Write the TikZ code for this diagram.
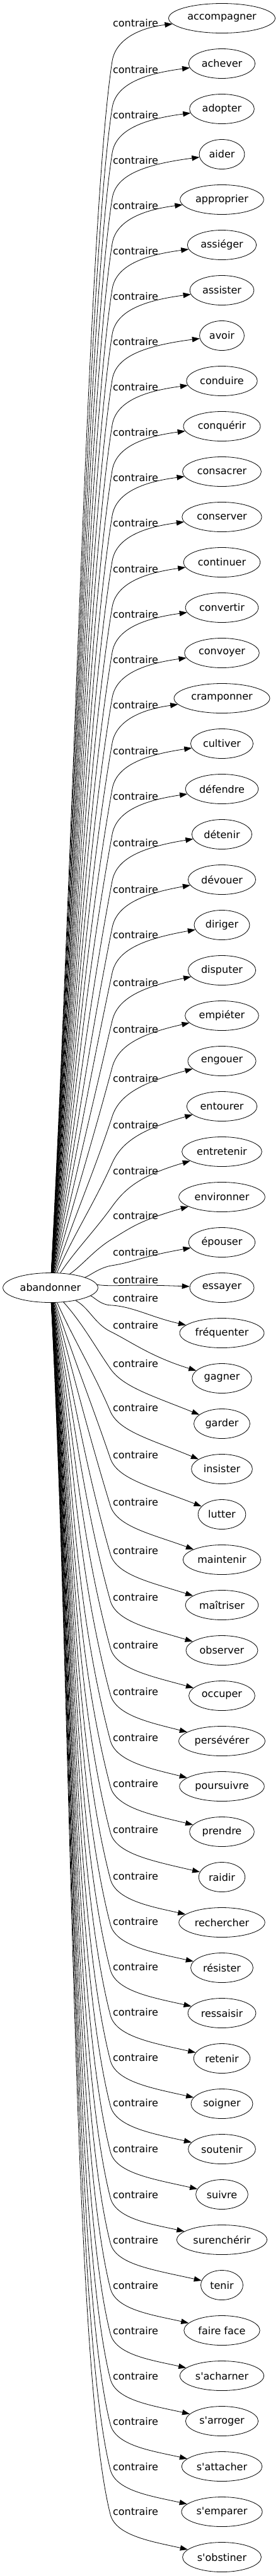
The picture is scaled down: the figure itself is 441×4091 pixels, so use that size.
\documentclass[tikz,border=0pt]{standalone}
\usepackage{fontspec}
\setmainfont{DejaVu Sans}
\usetikzlibrary{shapes.geometric,arrows.meta}

\tikzset{
  word/.style={draw, ellipse, line width=0.8pt, inner xsep=5pt, minimum height=47pt,
    font=\fontsize{16}{19}\selectfont},
  rel/.style={inner sep=0pt, font=\fontsize{16}{19}\selectfont},
  edge/.style={line width=0.8pt, -{Triangle[length=12pt,width=8.5pt]}},
}

\begin{document}
\begin{tikzpicture}[x=1pt, y=-1pt]
  \useasboundingbox (0,0) rectangle (441,4091);
  % the verb on the left
  \node[word] (ab) at (80,2045) {abandonner};
  % its contraries, 72pt apart, each label given by its offset
  \foreach \txt/\lo [count=\i from 0] in {
      accompagner/8, achever/10, adopter/10, aider/10, approprier/10,
      assiéger/10, assister/10, avoir/10, conduire/10, conquérir/10,
      consacrer/10, conserver/10, continuer/11, convertir/11, convoyer/11,
      cramponner/11, cultiver/12, défendre/12, détenir/14, dévouer/16,
      diriger/16, disputer/20, empiéter/22, engouer/28, entourer/30,
      entretenir/31, environner/30, épouser/16, essayer/-12, fréquenter/-55,
      gagner/-84, garder/-95, insister/-97, lutter/-94, maintenir/-91,
      maîtriser/-86, observer/-84, occuper/-81, persévérer/-79, poursuivre/-78,
      prendre/-77, raidir/-76, rechercher/-74, résister/-74, ressaisir/-74,
      retenir/-74, soigner/-74, soutenir/-74, suivre/-73, surenchérir/-72,
      tenir/-72, faire face/-72, s\textquotesingle{}acharner/-72,
      s\textquotesingle{}arroger/-72, s\textquotesingle{}attacher/-72,
      s\textquotesingle{}emparer/-72, s\textquotesingle{}obstiner/-73}{
    \pgfmathsetmacro\yy{29+72*\i}
    \pgfmathsetmacro\ly{\yy+\lo}
    \node[word] (w\i) at (352,\yy) {\txt};
    \node[rel] (l\i) at (215,\ly) {contraire};
    \ifdim\ly pt<2045pt
      % going up: bend under the label
      \pgfmathsetmacro\dd{2045-\ly}
      \pgfmathsetmacro\kk{min(1,(\dd+20)/220)}
      \pgfmathsetmacro\mmx{178}
      \pgfmathsetmacro\mmy{\ly+60*\kk}
      \pgfmathsetmacro\ux{0.15+(140/\dd)^2}
      \pgfmathsetmacro\nn{veclen(\ux,1)}
      \pgfmathsetmacro\tx{\ux/\nn}
      \pgfmathsetmacro\ty{-1/\nn}
      \pgfmathsetmacro\sx{84+60*(1-\kk)}
      \pgfmathsetmacro\sy{2022+20*(1-\kk)}
      \pgfmathsetmacro\cdx{222}
      \pgfmathsetmacro\cdy{\ly+7}
    \else
      % going down: bend beside the label
      \pgfmathsetmacro\dd{\ly-2045}
      \pgfmathsetmacro\kk{min(1,(\dd+20)/220)}
      \pgfmathsetmacro\mmx{175}
      \pgfmathsetmacro\mmy{\ly+12-7*\kk}
      \pgfmathsetmacro\ux{0.25+(80/\dd)^2}
      \pgfmathsetmacro\nn{veclen(\ux,1)}
      \pgfmathsetmacro\tx{\ux/\nn}
      \pgfmathsetmacro\ty{1/\nn}
      \pgfmathsetmacro\sx{84+60*(1-\kk)}
      \pgfmathsetmacro\sy{2068-20*(1-\kk)}
      \pgfmathsetmacro\cdx{240}
      \pgfmathsetmacro\cdy{min(\ly+50,\yy-25)}
    \fi
    \pgfmathsetmacro\cax{\sx+0.35*(\mmx-\sx)}
    \pgfmathsetmacro\cay{\sy+0.35*(\mmy-\sy)}
    \pgfmathsetmacro\ll{min(250,35*veclen((\mmx-\sx)/100,(\mmy-\sy)/100))}
    \pgfmathsetmacro\cbx{\mmx-\ll*\tx}
    \pgfmathsetmacro\cby{\mmy-\ll*\ty}
    \pgfmathsetmacro\ccx{\mmx+35*\tx}
    \pgfmathsetmacro\ccy{\mmy+35*\ty}
    \draw[edge] (ab) .. controls (\cax,\cay) and (\cbx,\cby) .. (\mmx,\mmy)
      .. controls (\ccx,\ccy) and (\cdx,\cdy) .. (w\i);
  }
\end{tikzpicture}
\end{document}
